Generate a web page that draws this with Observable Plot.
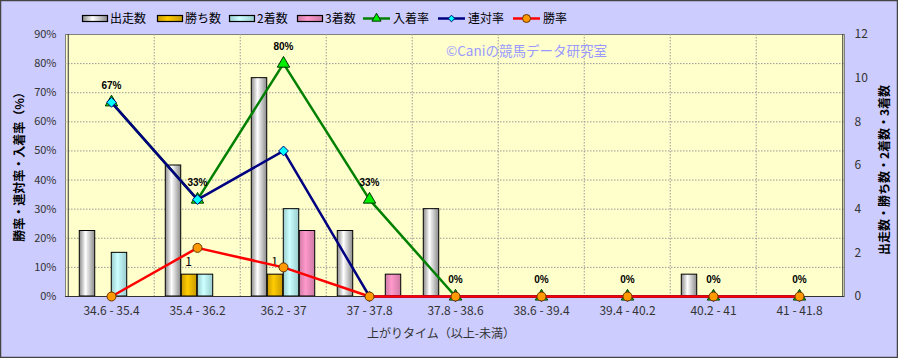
<!DOCTYPE html>
<html><head><meta charset="utf-8">
<script src="https://cdn.jsdelivr.net/npm/d3@7"></script>
<script src="https://cdn.jsdelivr.net/npm/@observablehq/plot@0.6"></script>
<style>
html,body{margin:0;padding:0;background:#fff;}
svg{display:block;}
</style></head><body><div id="chart"></div>
<script>
// ---- data ----
const categories = ["34.6 - 35.4","35.4 - 36.2","36.2 - 37","37 - 37.8","37.8 - 38.6","38.6 - 39.4","39.4 - 40.2","40.2 - 41","41 - 41.8"];
const starts  = [3, 6, 10, 3, 4, 0, 0, 1, 0];   // 出走数
const wins    = [0, 1, 1, 0, 0, 0, 0, 0, 0];    // 勝ち数
const seconds = [2, 1, 4, 0, 0, 0, 0, 0, 0];    // 2着数
const thirds  = [0, 0, 3, 1, 0, 0, 0, 0, 0];    // 3着数
const placeRate    = [66.7, 33.3, 80, 33.3, 0, 0, 0, 0, 0]; // 入着率 %
const quinellaRate = [66.7, 33.3, 50, 0, 0, 0, 0, 0, 0];    // 連対率 %
const winRate      = [0, 16.7, 10, 0, 0, 0, 0, 0, 0];       // 勝率 %
const placeLabels  = ["67%","33%","80%","33%","0%","0%","0%","0%","0%"];
const pctTicks   = [0,10,20,30,40,50,60,70,80,90];
const countTicks = [0,2,4,6,8,10,12];

// ---- layout ----
const W = 898, H = 358, mL = 65, mR = 54, mT = 34, mB = 62;
const K = 90 / 12; // count -> percent scale
const bw = (W - mL - mR) / categories.length;
const barW = 16;
const g0 = (bw - 4 * barW) / 2;
const FONT = "'Noto Sans CJK JP', 'Noto Sans', sans-serif";

const rows = categories.map((c, i) => ({
  cat: c, starts: starts[i], wins: wins[i], seconds: seconds[i], thirds: thirds[i],
  place: placeRate[i], quin: quinellaRate[i], win: winRate[i], lab: placeLabels[i]
}));

function barMark(key, idx, grad) {
  return Plot.barY(rows.filter(d => d[key] > 0), {
    x: "cat", y: d => d[key] * K, fill: `url(#${grad})`, stroke: "#000", strokeWidth: 1,
    insetLeft: g0 + barW * idx, insetRight: bw - g0 - barW * (idx + 1)
  });
}

const chart = Plot.plot({
  width: W, height: H,
  marginLeft: mL, marginRight: mR, marginTop: mT, marginBottom: mB,
  style: {background: "#CCCCFF", fontFamily: FONT, fontSize: "11px", color: "#333"},
  x: {type: "band", domain: categories, padding: 0, label: null},
  y: {domain: [0, 90], label: null},
  marks: [
    Plot.frame({fill: "#FFFFCC", stroke: "#808080"}),
    Plot.gridY(pctTicks.filter(v => v > 0 && v < 90), {stroke: "#999", strokeOpacity: 1, strokeDasharray: "1.5,1.5"}),
    Plot.ruleX(categories.slice(1), {dx: -bw / 2, stroke: "#999", strokeDasharray: "1.5,1.5"}),
    barMark("starts", 0, "gStarts"),
    barMark("wins", 1, "gWins"),
    barMark("seconds", 2, "gSeconds"),
    barMark("thirds", 3, "gThirds"),
    Plot.text(rows.filter(d => d.wins > 0), {
      x: "cat", y: d => d.wins * K, text: d => String(d.wins),
      dx: g0 + barW * 1.5 - bw / 2 - 1, dy: -13, fontSize: 12, fill: "#000"
    }),
    Plot.ruleY([0], {stroke: "#333"}),
    Plot.ruleX([categories[0]], {dx: -bw / 2, stroke: "#333"}),
    Plot.ruleX([categories[categories.length - 1]], {dx: bw / 2, stroke: "#333"}),
    // 入着率
    Plot.line(rows, {x: "cat", y: "place", stroke: "#008000", strokeWidth: 2.5}),
    Plot.dot(rows, {x: "cat", y: "place", symbol: "triangle", r: 4.6, fill: "#00EE00", stroke: "#003300", strokeWidth: 1}),
    // 連対率
    Plot.line(rows, {x: "cat", y: "quin", stroke: "#000080", strokeWidth: 2.5}),
    Plot.dot(rows, {x: "cat", y: "quin", symbol: "diamond2", r: 4.4, fill: "#00FFFF", stroke: "#000080", strokeWidth: 1}),
    // 勝率
    Plot.line(rows, {x: "cat", y: "win", stroke: "#FF0000", strokeWidth: 2.5}),
    Plot.dot(rows, {x: "cat", y: "win", symbol: "circle", r: 4.5, fill: "#FF9900", stroke: "#663300", strokeWidth: 1}),
    Plot.text(rows, {x: "cat", y: "place", text: "lab", dy: -17, fontSize: 10, fontWeight: "bold", fill: "#000", fontFamily: "'Liberation Sans', sans-serif"}),
    Plot.axisY(pctTicks, {anchor: "left", tickFormat: d => d + "%", tickSize: 0, tickPadding: 9, label: null, fontSize: 11}),
    Plot.axisY(countTicks.map(v => v * K), {anchor: "right", tickFormat: d => String(Math.round(d / K)), tickSize: 0, tickPadding: 10, label: null, fontSize: 12}),
    Plot.axisX({tickSize: 0, tickPadding: 10, label: null, fontSize: 12})
  ]
});

// ---- decorations: gradients, legend, titles, border ----
const svg = d3.select(chart);
const defs = svg.insert("defs", ":first-child");
function grad(id, edge, mid) {
  const g = defs.append("linearGradient").attr("id", id).attr("x1", "0").attr("x2", "1").attr("y1", "0").attr("y2", "0");
  g.append("stop").attr("offset", "0%").attr("stop-color", edge);
  g.append("stop").attr("offset", "40%").attr("stop-color", mid);
  g.append("stop").attr("offset", "100%").attr("stop-color", edge);
}
grad("gStarts", "#8a8a8a", "#ffffff");
grad("gWins", "#c89a00", "#ffcc00");
grad("gSeconds", "#99cccc", "#ccffff");
grad("gThirds", "#cc7aa3", "#ff99cc");

const legend = svg.append("g").attr("font-family", FONT).attr("font-size", 12).attr("fill", "#000").attr("text-anchor", "start");
const LY = 18.5;
const barItems = [
  {x: 82, label: "出走数", grad: "gStarts"},
  {x: 157, label: "勝ち数", grad: "gWins"},
  {x: 229, label: "2着数", grad: "gSeconds"},
  {x: 297, label: "3着数", grad: "gThirds"}
];
barItems.forEach(it => {
  legend.append("rect").attr("x", it.x + 0.5).attr("y", LY - 3).attr("width", 25).attr("height", 6)
    .attr("fill", `url(#${it.grad})`).attr("stroke", "#000").attr("stroke-width", 1.2);
  legend.append("text").attr("x", it.x + 28).attr("y", LY).attr("dy", "0.35em").text(it.label);
});
const lineItems = [
  {x: 363, label: "入着率", color: "#008000", sym: d3.symbolTriangle, size: 36, fill: "#00EE00", stroke: "#003300"},
  {x: 438, label: "連対率", color: "#000080", sym: d3.symbolDiamond2, size: 28, fill: "#00FFFF", stroke: "#000080"},
  {x: 513, label: "勝率", color: "#FF0000", sym: d3.symbolCircle, size: 50, fill: "#FF9900", stroke: "#663300"}
];
lineItems.forEach(it => {
  legend.append("line").attr("x1", it.x).attr("x2", it.x + 27).attr("y1", LY).attr("y2", LY)
    .attr("stroke", it.color).attr("stroke-width", 2.5);
  legend.append("path").attr("d", d3.symbol(it.sym, it.size)()).attr("transform", `translate(${it.x + 13.5},${LY})`)
    .attr("fill", it.fill).attr("stroke", it.stroke).attr("stroke-width", 1);
  legend.append("text").attr("x", it.x + 30).attr("y", LY).attr("dy", "0.35em").text(it.label);
});

svg.append("text").attr("x", 446).attr("y", 51).attr("dy", "0.35em").attr("text-anchor", "start")
  .attr("font-family", FONT).attr("font-size", 13.5).attr("fill", "#9999FF")
  .text("©Caniの競馬データ研究室");

svg.append("text").attr("transform", "translate(20,164) rotate(-90)").attr("text-anchor", "middle").attr("dy", "0.35em")
  .attr("font-family", FONT).attr("font-size", 12).attr("font-weight", "bold").attr("fill", "#000")
  .text("勝率・連対率・入着率（%）");
svg.append("text").attr("transform", "translate(885,170) rotate(-90)").attr("text-anchor", "middle").attr("dy", "0.35em")
  .attr("font-family", FONT).attr("font-size", 12).attr("font-weight", "bold").attr("fill", "#000")
  .text("出走数・勝ち数・2着数・3着数");
svg.append("text").attr("x", 441).attr("y", 334).attr("text-anchor", "middle").attr("dy", "0.35em")
  .attr("font-family", FONT).attr("font-size", 12).attr("fill", "#333")
  .text("上がりタイム（以上-未満）");

svg.append("rect").attr("x", 0.5).attr("y", 0.5).attr("width", W - 1).attr("height", H - 1)
  .attr("fill", "none").attr("stroke", "#444").attr("stroke-width", 1.5);

document.getElementById("chart").appendChild(chart);
</script>
</body></html>
